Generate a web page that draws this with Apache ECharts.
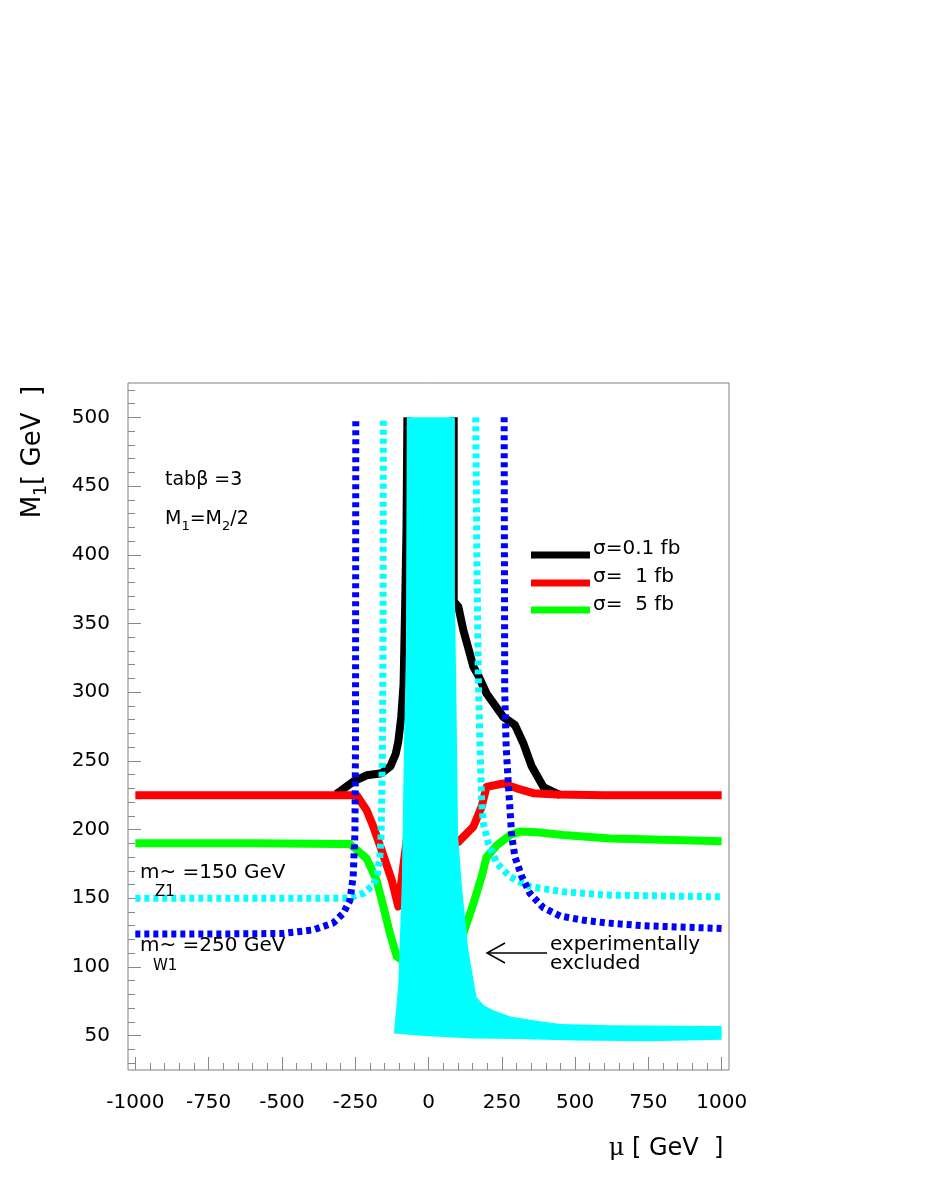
<!DOCTYPE html>
<html>
<head>
<meta charset="utf-8">
<title>M1 vs mu</title>
<script src="https://cdn.jsdelivr.net/npm/echarts@6/dist/echarts.min.js"></script>
<style>
  html, body { margin: 0; padding: 0; background: #fff; }
  #main { width: 926px; height: 1199px; }
</style>
</head>
<body>
<div id="main"></div>
<script>
// axis labels
var muLabels = [-1000, -750, -500, -250, 0, 250, 500, 750, 1000];
var m1Labels = [50, 100, 150, 200, 250, 300, 350, 400, 450, 500];

// sigma = 0.1 fb (black), two branches around the excluded band
var sig01LeftMu = [-315, -300, -256, -211, -160, -130, -112, -103, -93, -85, -80, -75, -72];
var sig01LeftM1 = [226, 228, 235, 239.5, 241, 246, 255, 264, 282, 306, 360, 420, 500];
var sig01RightMu = [86, 86, 102, 119, 141, 153, 170, 198, 255, 295, 323, 352, 392, 420, 450];
var sig01RightM1 = [500, 366, 362, 345, 328, 318.5, 312, 299, 282, 276, 263, 246, 231, 228, 225];

// sigma = 1 fb (red)
var sig1Mu = [-1000, -600, -300, -245, -211, -188, -160, -125, -103, -85, -70, 0, 60, 102, 141, 153, 181, 198, 255, 301, 357, 437, 600, 1000];
var sig1M1 = [225, 225, 225, 225, 214, 202, 185, 163, 144, 175, 200, 205, 195, 191, 199.5, 202, 216.5, 231, 233.5, 230, 226.5, 225.5, 225, 225];

// sigma = 5 fb (green)
var sig5Mu = [-1000, -600, -300, -268, -211, -177, -154, -131, -108, -90, 0, 100, 119, 153, 181, 198, 233, 278, 312, 369, 460, 619, 732, 1000];
var sig5M1 = [190, 190, 189.5, 189.5, 179, 163, 144, 124, 107.5, 105, 110, 118, 124.5, 146, 165.5, 180, 188.5, 196, 198.5, 198, 196, 193.5, 193, 191.5];

// m(Z1) = 150 GeV contour (cyan dotted)
var z1LeftMu = [-1000, -500, -290, -268, -222, -188, -175, -166, -162, -160, -157, -155, -154];
var z1LeftM1 = [150, 150, 150, 150.5, 153.6, 159.6, 167, 180, 195, 215, 260, 350, 500];
var z1RightMu = [161, 165, 170, 176, 181, 187, 204, 233, 278, 346, 460, 608, 1000];
var z1RightM1 = [500, 400, 309, 258, 222, 204.5, 190, 175.5, 165.6, 158.4, 154.7, 152.3, 151];

// m(W1) = 250 GeV contour (blue dotted)
var w1LeftMu = [-1000, -700, -495, -393, -325, -291, -268, -257, -251, -249, -248];
var w1LeftM1 = [124, 124, 124.4, 127, 132, 139, 148.5, 165.6, 197, 260, 500];
var w1RightMu = [258, 260, 265, 272, 284, 295, 318, 346, 392, 450, 530, 608, 732, 1000];
var w1RightM1 = [500, 300, 260, 234, 195, 180, 166, 153.5, 143, 137, 134, 132, 130, 128];

// experimentally excluded region (cyan fill outline)
var exclMu = [-74, 90, 90, 95, 101, 113, 136, 164, 190, 221, 280, 346, 450, 620, 1000, 1000, 750, 500, 300, 150, 0, -118, -103, -91, -84, -77];
var exclM1 = [500, 500, 370, 300, 195, 161, 112, 78, 72, 68.5, 64, 61.5, 58.5, 57.5, 57, 47, 46, 46.5, 47.5, 48, 49.5, 51.5, 88, 161, 258, 330];

function zip(xs, ys) {
  return xs.map(function (x, i) { return [x, ys[i]]; });
}

var muMinor = [];
for (var v = -1000; v <= 1000; v += 50) {
  if (muLabels.indexOf(v) < 0) muMinor.push(v);
}
var m1Minor = [];
for (var w = 30; w <= 520; w += 10) {
  if (w % 50 !== 0) m1Minor.push(w);
}

var FONT = 'DejaVu Sans';
var TICK = '#888';
var plain = function (val) { return String(val); };

function solid(data, color, z) {
  return {
    type: 'line', data: data, showSymbol: false, z: z,
    lineStyle: { color: color, width: 8, join: 'round' }
  };
}
function dotted(data, color) {
  return {
    type: 'line', data: data, showSymbol: false, z: 5,
    lineStyle: { color: color, width: 7, type: [5, 4], cap: 'butt' }
  };
}

var chart = echarts.init(document.getElementById('main'));

var option = {
  animation: false,
  backgroundColor: '#fff',
  grid: {
    left: 128, top: 383, width: 601, height: 687,
    show: true, borderColor: '#808080', borderWidth: 1
  },
  xAxis: [
    {
      type: 'value', min: -1025, max: 1025, position: 'bottom',
      axisLine: { show: false, onZero: false },
      splitLine: { show: false },
      axisTick: { inside: true, length: 13, customValues: muLabels, lineStyle: { color: TICK } },
      axisLabel: { customValues: muLabels, formatter: plain, margin: 23, fontSize: 20, fontFamily: FONT, color: '#000' }
    },
    {
      type: 'value', min: -1025, max: 1025, position: 'bottom',
      axisLine: { show: false, onZero: false },
      splitLine: { show: false },
      axisTick: { inside: true, length: 7, customValues: muMinor, lineStyle: { color: TICK } },
      axisLabel: { show: false }
    }
  ],
  yAxis: [
    {
      type: 'value', min: 25, max: 525, position: 'left',
      axisLine: { show: false, onZero: false },
      splitLine: { show: false },
      axisTick: { inside: true, length: 13, customValues: m1Labels, lineStyle: { color: TICK } },
      axisLabel: { customValues: m1Labels, formatter: plain, margin: 18, fontSize: 20, fontFamily: FONT, color: '#000' }
    },
    {
      type: 'value', min: 25, max: 525, position: 'left',
      axisLine: { show: false, onZero: false },
      splitLine: { show: false },
      axisTick: { inside: true, length: 7, customValues: m1Minor, lineStyle: { color: TICK } },
      axisLabel: { show: false }
    }
  ],
  series: [
    solid(zip(sig01LeftMu, sig01LeftM1), '#000000', 2),
    solid(zip(sig01RightMu, sig01RightM1), '#000000', 2),
    solid(zip(sig1Mu, sig1M1), '#ff0000', 2),
    solid(zip(sig5Mu, sig5M1), '#00ff00', 2),
    {
      type: 'custom',
      z: 4,
      data: [[0, 250]],
      renderItem: function (params, api) {
        var pts = exclMu.map(function (m, i) { return api.coord([m, exclM1[i]]); });
        return { type: 'polygon', shape: { points: pts }, style: { fill: '#00ffff' } };
      }
    },
    dotted(zip(z1LeftMu, z1LeftM1), '#00ffff'),
    dotted(zip(z1RightMu, z1RightM1), '#00ffff'),
    dotted(zip(w1LeftMu, w1LeftM1), '#0000ff'),
    dotted(zip(w1RightMu, w1RightM1), '#0000ff')
  ],
  graphic: [
    // axis titles
    {
      type: 'text', x: 666, y: 1149, z: 10,
      style: {
        text: '{g|μ} [ GeV  ]', align: 'center', verticalAlign: 'middle',
        font: '24px "DejaVu Sans"', fill: '#000',
        rich: { g: { fontSize: 24, fontFamily: 'DejaVu Serif' } }
      }
    },
    {
      type: 'text', x: 33, y: 452, rotation: Math.PI / 2, z: 10,
      style: {
        text: '{a|M}{s|1}{a|[ GeV  ]}', align: 'center', verticalAlign: 'middle',
        fill: '#000',
        rich: {
          a: { fontSize: 26, fontFamily: FONT, lineHeight: 34 },
          s: { fontSize: 17, fontFamily: FONT, lineHeight: 16, verticalAlign: 'bottom' }
        }
      }
    },
    // parameter annotations
    {
      type: 'text', x: 165, y: 480, z: 10,
      style: { text: 'tabβ =3', verticalAlign: 'middle', font: '19px "DejaVu Sans"', fill: '#000' }
    },
    {
      type: 'text', x: 165, y: 519, z: 10,
      style: {
        text: '{a|M}{s|1}{a|=M}{s|2}{a|/2}', verticalAlign: 'middle', fill: '#000',
        rich: {
          a: { fontSize: 19, fontFamily: FONT, lineHeight: 28 },
          s: { fontSize: 13, fontFamily: FONT, lineHeight: 12, verticalAlign: 'bottom' }
        }
      }
    },
    // legend
    { type: 'rect', shape: { x: 531, y: 551.5, width: 59, height: 7 }, style: { fill: '#000000' }, z: 10 },
    { type: 'rect', shape: { x: 531, y: 579.5, width: 59, height: 7 }, style: { fill: '#ff0000' }, z: 10 },
    { type: 'rect', shape: { x: 531, y: 606.5, width: 59, height: 7 }, style: { fill: '#00ff00' }, z: 10 },
    { type: 'text', x: 593, y: 549, z: 10, style: { text: 'σ=0.1 fb', verticalAlign: 'middle', font: '20px "DejaVu Sans"', fill: '#000' } },
    { type: 'text', x: 593, y: 577, z: 10, style: { text: 'σ=  1 fb', verticalAlign: 'middle', font: '20px "DejaVu Sans"', fill: '#000' } },
    { type: 'text', x: 593, y: 605, z: 10, style: { text: 'σ=  5 fb', verticalAlign: 'middle', font: '20px "DejaVu Sans"', fill: '#000' } },
    // contour labels
    { type: 'text', x: 140, y: 873, z: 10, style: { text: 'm~ =150 GeV', verticalAlign: 'middle', font: '20px "DejaVu Sans"', fill: '#000' } },
    { type: 'text', x: 155, y: 892, z: 10, style: { text: 'Z1', verticalAlign: 'middle', font: '15px "DejaVu Sans"', fill: '#000' } },
    { type: 'text', x: 140, y: 946, z: 10, style: { text: 'm~ =250 GeV', verticalAlign: 'middle', font: '20px "DejaVu Sans"', fill: '#000' } },
    { type: 'text', x: 153, y: 966, z: 10, style: { text: 'W1', verticalAlign: 'middle', font: '15px "DejaVu Sans"', fill: '#000' } },
    // excluded region arrow
    { type: 'polyline', shape: { points: [[547, 953], [487, 953]] }, style: { stroke: '#000', lineWidth: 1.5, fill: null }, z: 10 },
    { type: 'polyline', shape: { points: [[505, 943], [487, 953], [505, 963]] }, style: { stroke: '#000', lineWidth: 1.5, fill: null }, z: 10 },
    { type: 'text', x: 550, y: 945, z: 10, style: { text: 'experimentally', verticalAlign: 'middle', font: '20px "DejaVu Sans"', fill: '#000' } },
    { type: 'text', x: 550, y: 964, z: 10, style: { text: 'excluded', verticalAlign: 'middle', font: '20px "DejaVu Sans"', fill: '#000' } }
  ]
};

chart.setOption(option);
</script>
</body>
</html>
